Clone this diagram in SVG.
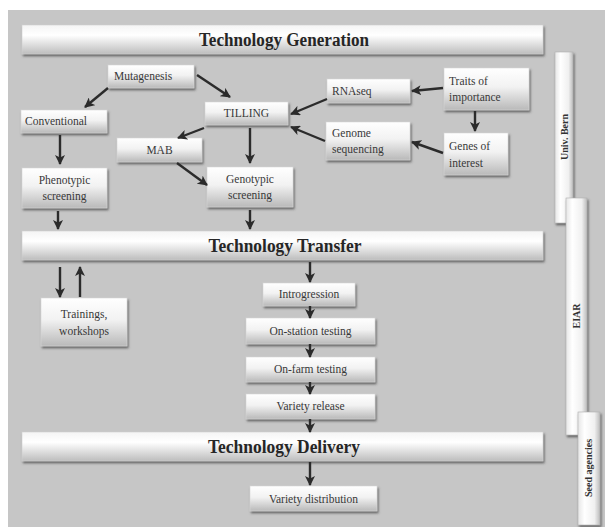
<svg xmlns="http://www.w3.org/2000/svg" width="605" height="527" viewBox="0 0 605 527">
<defs>
<linearGradient id="gBox" x1="0" y1="0" x2="0" y2="1">
<stop offset="0" stop-color="#ffffff"/>
<stop offset="0.45" stop-color="#f2f2f2"/>
<stop offset="1" stop-color="#b9b9b9"/>
</linearGradient>
<linearGradient id="gBar" x1="0" y1="0" x2="0" y2="1">
<stop offset="0" stop-color="#f4f4f4"/>
<stop offset="0.35" stop-color="#ffffff"/>
<stop offset="1" stop-color="#bdbdbd"/>
</linearGradient>
<linearGradient id="gVert" x1="0" y1="0" x2="1" y2="0">
<stop offset="0" stop-color="#e6e6e6"/>
<stop offset="0.3" stop-color="#ffffff"/>
<stop offset="0.75" stop-color="#f0f0f0"/>
<stop offset="1" stop-color="#bcbcbc"/>
</linearGradient>
<filter id="sh" x="-10%" y="-20%" width="130%" height="150%">
<feDropShadow dx="1.2" dy="2" stdDeviation="0.9" flood-color="#444" flood-opacity="0.75"/>
</filter>
<marker id="ah" viewBox="0 0 10 10" refX="9" refY="5" markerWidth="10" markerHeight="10" markerUnits="userSpaceOnUse" orient="auto">
<path d="M0,0 L10,5 L0,10 L2.5,5 z" fill="#2b2b2b"/>
</marker>
<style>
.box{fill:url(#gBox);stroke:#d6d6d6;stroke-width:0.6;filter:url(#sh)}
.bar{fill:url(#gBar);stroke:#d0d0d0;stroke-width:0.6;filter:url(#sh)}
.vbar{fill:url(#gVert);stroke:#b0b0b0;stroke-width:0.6;filter:url(#sh)}
.t{font-family:"Liberation Serif","Times New Roman",serif;font-size:11.5px;fill:#383838}
.c{text-anchor:middle}
.title{font-family:"Liberation Serif","Times New Roman",serif;font-size:18px;font-weight:bold;fill:#262626;text-anchor:middle}
.vt{font-family:"Liberation Serif","Times New Roman",serif;font-size:10px;font-weight:bold;fill:#333;text-anchor:middle}
.arr{stroke:#2b2b2b;stroke-width:2.4;fill:none;marker-end:url(#ah)}
</style>
</defs>
<rect x="0" y="0" width="605" height="527" fill="#ffffff"/>
<rect x="8" y="10" width="597" height="517" fill="#c6c6c6"/>

<g id="bar-generation"><rect class="bar" x="22" y="25" width="521" height="29"/><text class="title" x="284" y="46" textLength="170" lengthAdjust="spacingAndGlyphs">Technology Generation</text></g>
<g id="bar-transfer"><rect class="bar" x="22" y="231" width="521" height="29"/><text class="title" x="285" y="252" textLength="153" lengthAdjust="spacingAndGlyphs">Technology Transfer</text></g>
<g id="bar-delivery"><rect class="bar" x="22" y="432" width="521" height="29"/><text class="title" x="284" y="453" textLength="152" lengthAdjust="spacingAndGlyphs">Technology Delivery</text></g>

<g id="univ-bern"><rect class="vbar" x="555" y="52" width="18" height="171"/><text class="vt" transform="translate(567.5,137) rotate(-90)">Univ. Bern</text></g>
<g id="eiar"><rect class="vbar" x="566" y="198" width="21" height="237"/><text class="vt" transform="translate(580,316) rotate(-90)">EIAR</text></g>
<g id="seed-agencies"><rect class="vbar" x="578" y="412" width="22" height="113"/><text class="vt" transform="translate(592,468) rotate(-90)">Seed agencies</text></g>

<g id="mutagenesis"><rect class="box" x="108" y="65" width="86" height="23"/><text class="t" x="114" y="80">Mutagenesis</text></g>
<g id="conventional"><rect class="box" x="21" y="110" width="86" height="23"/><text class="t" x="25" y="125">Conventional</text></g>
<g id="tilling"><rect class="box" x="205" y="102" width="83" height="23"/><text class="t c" x="246.5" y="117">TILLING</text></g>
<g id="rnaseq"><rect class="box" x="327" y="79" width="83" height="24"/><text class="t" x="332" y="95">RNAseq</text></g>
<g id="traits"><rect class="box" x="444" y="68" width="85" height="42"/><text class="t" x="449" y="85">Traits of</text><text class="t" x="449" y="101">importance</text></g>
<g id="genome-sequencing"><rect class="box" x="326" y="122" width="84" height="38"/><text class="t" x="332" y="137">Genome</text><text class="t" x="332" y="153">sequencing</text></g>
<g id="genes-of-interest"><rect class="box" x="444" y="133" width="64" height="42"/><text class="t" x="449" y="150">Genes of</text><text class="t" x="449" y="167">interest</text></g>
<g id="mab"><rect class="box" x="117" y="138" width="85" height="24"/><text class="t c" x="159.5" y="154">MAB</text></g>
<g id="phenotypic"><rect class="box" x="22" y="168" width="85" height="40"/><text class="t c" x="64.5" y="184">Phenotypic</text><text class="t c" x="64.5" y="200">screening</text></g>
<g id="genotypic"><rect class="box" x="207" y="167" width="86" height="40"/><text class="t c" x="250" y="183">Genotypic</text><text class="t c" x="250" y="199">screening</text></g>

<g id="trainings"><rect class="box" x="41" y="298" width="86" height="48"/><text class="t c" x="84" y="318">Trainings,</text><text class="t c" x="84" y="335">workshops</text></g>
<g id="introgression"><rect class="box" x="263" y="283" width="92" height="23"/><text class="t c" x="309" y="298">Introgression</text></g>
<g id="on-station"><rect class="box" x="246" y="318" width="129" height="26"/><text class="t c" x="310.5" y="335">On-station testing</text></g>
<g id="on-farm"><rect class="box" x="246" y="357" width="129" height="25"/><text class="t c" x="310.5" y="373">On-farm testing</text></g>
<g id="variety-release"><rect class="box" x="246" y="394" width="129" height="25"/><text class="t c" x="310.5" y="410">Variety release</text></g>
<g id="variety-distribution"><rect class="box" x="250" y="486" width="127" height="25"/><text class="t c" x="313.5" y="503">Variety distribution</text></g>

<g id="connectors">
<line class="arr" x1="108" y1="88" x2="85" y2="107"/>
<line class="arr" x1="197" y1="75" x2="230" y2="97"/>
<line class="arr" x1="60" y1="135" x2="60" y2="164"/>
<line class="arr" x1="204" y1="128" x2="178" y2="138"/>
<line class="arr" x1="250" y1="128" x2="250" y2="163"/>
<line class="arr" x1="177" y1="163" x2="207" y2="185"/>
<line class="arr" x1="58" y1="211" x2="58" y2="229"/>
<line class="arr" x1="250" y1="210" x2="250" y2="229"/>
<line class="arr" x1="443" y1="88" x2="412" y2="91"/>
<line class="arr" x1="475" y1="111" x2="475" y2="131"/>
<line class="arr" x1="443" y1="153" x2="412" y2="142"/>
<line class="arr" x1="327" y1="99" x2="291" y2="114"/>
<line class="arr" x1="325" y1="141" x2="291" y2="127"/>
<line class="arr" x1="60" y1="267" x2="60" y2="297"/>
<line class="arr" x1="80" y1="297" x2="80" y2="267"/>
<line class="arr" x1="310" y1="262" x2="310" y2="282"/>
<line class="arr" x1="310" y1="306" x2="310" y2="318"/>
<line class="arr" x1="310" y1="344" x2="310" y2="357"/>
<line class="arr" x1="310" y1="382" x2="310" y2="394"/>
<line class="arr" x1="310" y1="419" x2="310" y2="432"/>
<line class="arr" x1="310" y1="462" x2="310" y2="485"/>
</g>
</svg>
